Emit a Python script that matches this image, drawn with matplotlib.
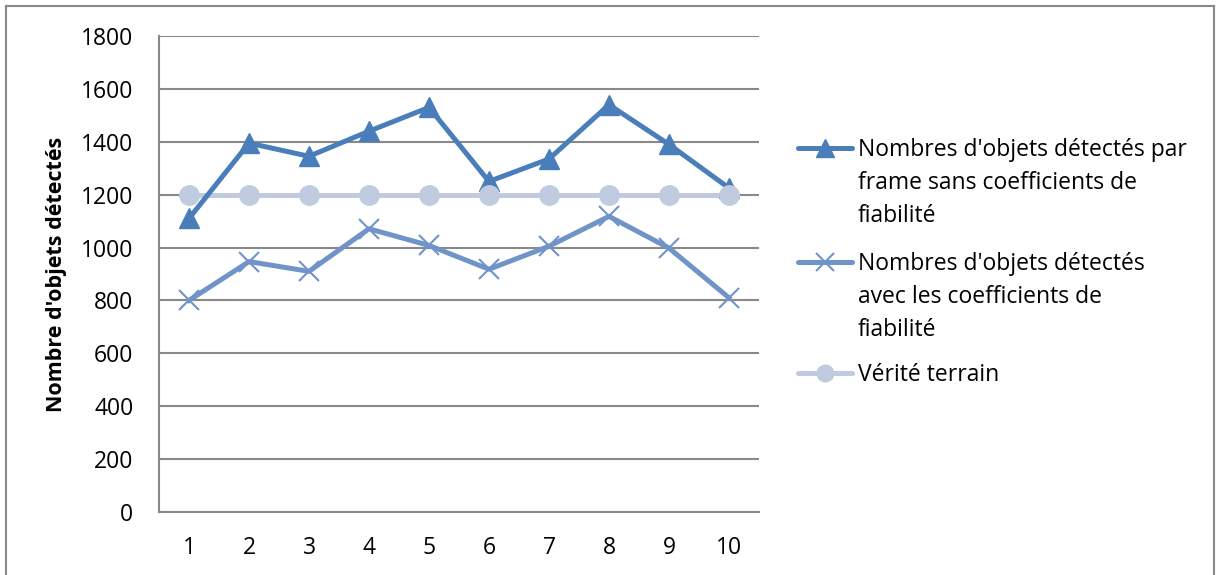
import numpy as np
import matplotlib
matplotlib.use("Agg")
import matplotlib.pyplot as plt
from matplotlib.lines import Line2D

plt.rcParams['font.family'] = ['Open Sans', 'DejaVu Sans']

# data
frames = [1, 2, 3, 4, 5, 6, 7, 8, 9, 10]
sans_coef = [1110, 1395, 1345, 1440, 1530, 1250, 1335, 1540, 1390, 1225]
avec_coef = [800, 947, 910, 1071, 1008, 918, 1005, 1118, 998, 810]
verite = [1200, 1200, 1200, 1200, 1200, 1200, 1200, 1200, 1200, 1200]
yticks = [0, 200, 400, 600, 800, 1000, 1200, 1400, 1600, 1800]

labels = ["Nombres d'objets détectés par\nframe sans coefficients de\nfiabilité",
          "Nombres d'objets détectés\navec les coefficients de\nfiabilité",
          "Vérité terrain"]

c1 = '#4a7ebb'
c2 = '#7094c7'
c3 = '#c0cbe0'
grid_c = '#898989'
fs = 16.5

fig = plt.figure(figsize=(12.16, 5.75), dpi=100)
ax = fig.add_axes([159 / 1216, 1 - 512 / 575, 600 / 1216, 476 / 575])

# lines first, markers on top (circles last, like the original)
series = [(verite, c3, dict(marker='o', ms=14)),
          (avec_coef, c2, dict(marker='x', ms=14, mew=1.5)),
          (sans_coef, c1, dict(marker='^', ms=14))]
for vals, col, mk in series:
    ax.plot(frames, vals, color=col, lw=3.6, zorder=2)
for vals, col, mk in reversed(series):
    ax.plot(frames, vals, color=col, lw=0, zorder=3, **mk)

ax.set_xlim(0.5, 10.5)
ax.set_ylim(0, 1800)
ax.set_xticks(frames)
ax.set_yticks(yticks)
ax.yaxis.grid(True, color=grid_c, lw=1.5)
ax.set_axisbelow(True)
for s in ['top', 'right']:
    ax.spines[s].set_visible(False)
for s in ['left', 'bottom']:
    ax.spines[s].set_color(grid_c)
    ax.spines[s].set_linewidth(1.5)
ax.tick_params(axis='both', length=0, labelsize=fs)
ax.tick_params(axis='y', pad=18.5)
ax.tick_params(axis='x', pad=17)
ax.set_ylabel("Nombre d'objets détectés", fontsize=15.5, fontweight='bold', labelpad=10)

# legend drawn by hand so the handle sits on the first text line
leg_y = [148, 262, 373]
styles = [dict(color=c1, marker='^', ms=13),
          dict(color=c2, marker='x', ms=13, mew=1.5),
          dict(color=c3, marker='o', ms=12)]
for y, st, lab in zip(leg_y, styles, labels):
    fy = 1 - y / 575
    fig.add_artist(Line2D([798 / 1216, 852 / 1216], [fy, fy], lw=3.6,
                          color=st['color'], transform=fig.transFigure,
                          solid_capstyle='round'))
    fig.add_artist(Line2D([825 / 1216], [fy], transform=fig.transFigure,
                          lw=0, **st))
    fig.text(858 / 1216, fy + 10 / 575, lab, fontsize=fs, va='top',
             ha='left', linespacing=1.5)

# outer chart border
for xs, ys in [([6, 6], [575, 6]), ([6, 1214], [6, 6]), ([1214, 1214], [6, 575])]:
    fig.add_artist(Line2D([x / 1216 for x in xs], [1 - y / 575 for y in ys],
                          transform=fig.transFigure, color=grid_c, lw=1.5))

fig.savefig('out.png', dpi=100)
